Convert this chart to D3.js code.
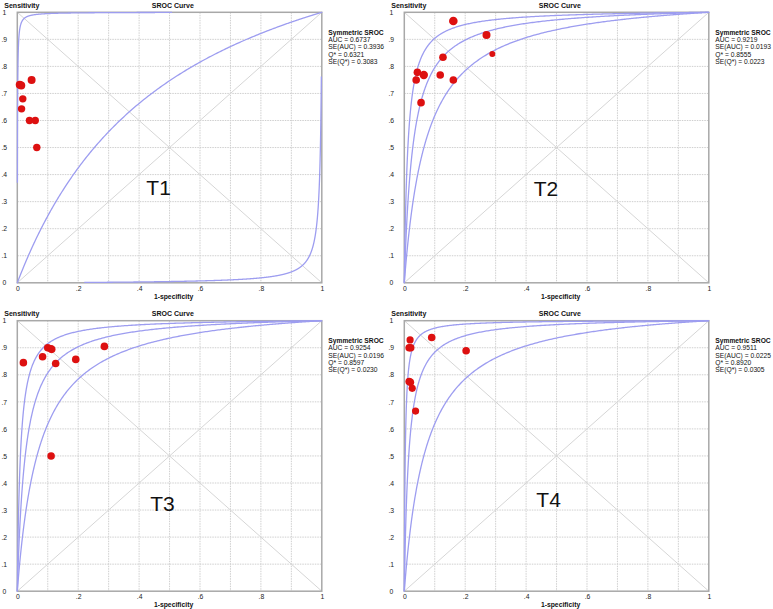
<!DOCTYPE html>
<html>
<head>
<meta charset="utf-8">
<script src="https://cdn.jsdelivr.net/npm/d3@7"></script>
<style>
  body { margin: 0; background: #fff; }
  svg { display: block; font-family: Arial, "Liberation Sans", sans-serif; }
</style>
</head>
<body>
<div class="chart"></div>
<script>
// Panel labels
var panelNames = ["T1", "T2", "T3", "T4"];

// Study points (1-specificity, sensitivity) and marker radius
var fprT1 = [0.008, 0.013, 0.047, 0.018, 0.014, 0.040, 0.059, 0.064];
var sensT1 = [0.732, 0.729, 0.750, 0.680, 0.643, 0.600, 0.600, 0.500];
var sizeT1 = [4, 4, 4, 3.7, 3.7, 3.7, 3.7, 3.7];

var fprT2 = [0.161, 0.270, 0.289, 0.127, 0.043, 0.039, 0.064, 0.118, 0.161, 0.055];
var sensT2 = [0.968, 0.916, 0.846, 0.834, 0.778, 0.750, 0.768, 0.768, 0.750, 0.666];
var sizeT2 = [4.3, 4, 3, 3.8, 3.8, 3.8, 4.2, 3.8, 3.8, 3.8];

var fprT3 = [0.020, 0.083, 0.100, 0.110, 0.113, 0.126, 0.192, 0.286, 0.111];
var sensT3 = [0.845, 0.867, 0.900, 0.896, 0.894, 0.842, 0.857, 0.905, 0.500];
var sizeT3 = [3.8, 3.8, 3.8, 3.8, 3.8, 3.8, 3.8, 3.8, 3.8];

var fprT4 = [0.019, 0.016, 0.021, 0.090, 0.203, 0.016, 0.020, 0.026, 0.037];
var sensT4 = [0.929, 0.900, 0.900, 0.938, 0.889, 0.775, 0.772, 0.750, 0.666];
var sizeT4 = [3.6, 3.8, 3.8, 3.8, 3.8, 3.8, 3.8, 3.6, 3.6];

// Symmetric SROC statistics
var aucValues = [0.6737, 0.9219, 0.9254, 0.9511];
var seAuc = [0.3936, 0.0193, 0.0196, 0.0225];
var qStar = [0.6321, 0.8555, 0.8597, 0.8920];
var seQStar = [0.3083, 0.0223, 0.0230, 0.0305];

// Half width of the outer curves on the logit scale
var bandWidth = [6.45, 0.88, 0.95, 1.54];
// Range of S = logit(TPR) + logit(FPR) drawn for [lower, middle, upper] curves
var spanT1 = [[-7.9, 7.7], [-40, 40], [-8.6, 7.6]];
var spanFull = [[-40, 40], [-40, 40], [-40, 40]];

// Tick labels
var xTicks = [0, 0.2, 0.4, 0.6, 0.8, 1];
var xTickLabels = ["0", ".2", ".4", ".6", ".8", "1"];
var yTicks = [0, 0.1, 0.2, 0.3, 0.4, 0.5, 0.6, 0.7, 0.8, 0.9, 1];
var yTickLabels = ["0", ".1", ".2", ".3", ".4", ".5", ".6", ".7", ".8", ".9", "1"];

// Configuration
var width = 773;
var height = 609;
var plotW = 304.5;
var plotH = 270.5;
var panelLeft = [17.3, 404.3, 17.3, 404.3];
var panelTop = [12.3, 12.3, 320.7, 320.7];
var namePos = [[0.464, 0.325], [0.465, 0.322], [0.477, 0.296], [0.474, 0.311]];

var panels = [
  { fpr: fprT1, sens: sensT1, size: sizeT1, span: spanT1 },
  { fpr: fprT2, sens: sensT2, size: sizeT2, span: spanFull },
  { fpr: fprT3, sens: sensT3, size: sizeT3, span: spanFull },
  { fpr: fprT4, sens: sensT4, size: sizeT4, span: spanFull }
];

var logit = function(p) { return Math.log(p / (1 - p)); };
var expit = function(z) { return 1 / (1 + Math.exp(-z)); };

var svg = d3.select(".chart").append("svg")
    .attr("width", width)
    .attr("height", height);

var x = d3.scaleLinear().domain([0, 1]).range([0, plotW]);
var y = d3.scaleLinear().domain([0, 1]).range([plotH, 0]);

var line = d3.line()
    .x(function(d) { return x(d[0]); })
    .y(function(d) { return y(d[1]); });

var grid = d3.range(1, 10).map(function(i) { return i / 10; });

panels.forEach(function(p, k) {
  var g = svg.append("g")
      .attr("transform", "translate(" + panelLeft[k] + "," + panelTop[k] + ")");

  // dotted grid
  g.selectAll("line.gx").data(grid).enter().append("line")
      .attr("x1", function(d) { return x(d); })
      .attr("x2", function(d) { return x(d); })
      .attr("y1", 0).attr("y2", plotH)
      .attr("stroke", "#cfcfcf").attr("stroke-dasharray", "1.5,1");
  g.selectAll("line.gy").data(grid).enter().append("line")
      .attr("y1", function(d) { return y(d); })
      .attr("y2", function(d) { return y(d); })
      .attr("x1", 0).attr("x2", plotW)
      .attr("stroke", "#cfcfcf").attr("stroke-dasharray", "1.5,1");

  // diagonals
  g.append("path").attr("d", line([[0, 0], [1, 1]]))
      .attr("stroke", "#d6d6d6").attr("fill", "none");
  g.append("path").attr("d", line([[0, 1], [1, 0]]))
      .attr("stroke", "#d6d6d6").attr("fill", "none");

  // frame
  g.append("rect")
      .attr("width", plotW).attr("height", plotH)
      .attr("fill", "none").attr("stroke", "#a8a8a8").attr("stroke-width", 1.5);

  // axes
  var xAxis = g.append("g")
      .attr("transform", "translate(0," + plotH + ")")
      .call(d3.axisBottom(x).tickValues(xTicks).tickSize(0).tickPadding(3)
        .tickFormat(function(d, i) { return xTickLabels[i]; }));
  var yAxis = g.append("g")
      .call(d3.axisLeft(y).tickValues(yTicks).tickSize(0)
        .tickFormat(function(d, i) { return yTickLabels[i]; }));
  [xAxis, yAxis].forEach(function(a) {
    a.select(".domain").remove();
    a.selectAll("text").attr("font-size", 6.8).attr("fill", "#222")
        .attr("font-family", "Arial, 'Liberation Sans', sans-serif");
  });
  yAxis.selectAll("text").attr("text-anchor", "middle").attr("x", -13);

  // SROC curve and its outer curves
  var mid = 2 * logit(qStar[k]);
  var dValues = [mid - bandWidth[k], mid, mid + bandWidth[k]];
  dValues.forEach(function(D, c) {
    var s0 = p.span[c][0], s1 = p.span[c][1];
    var pts = d3.range(0, 2001).map(function(i) {
      var s = s0 + (s1 - s0) * i / 2000;
      return [expit((s - D) / 2), expit((s + D) / 2)];
    });
    g.append("path")
        .attr("d", line(pts))
        .attr("fill", "none")
        .attr("stroke", "#9d9df0")
        .attr("stroke-width", 1.3);
  });

  // study points
  g.selectAll("circle").data(p.fpr).enter().append("circle")
      .attr("cx", function(d) { return x(d); })
      .attr("cy", function(d, i) { return y(p.sens[i]); })
      .attr("r", function(d, i) { return p.size[i]; })
      .attr("fill", "#dd1010");

  // titles
  g.append("text").attr("x", -13).attr("y", -4.5)
      .attr("font-size", 7).attr("font-weight", "bold").attr("fill", "#111")
      .text("Sensitivity");
  g.append("text").attr("x", 134.5).attr("y", -4.5)
      .attr("font-size", 7).attr("font-weight", "bold").attr("fill", "#111")
      .text("SROC Curve");
  g.append("text").attr("x", plotW / 2 + 4).attr("y", plotH + 16)
      .attr("text-anchor", "middle")
      .attr("font-size", 6.8).attr("font-weight", "bold").attr("fill", "#111")
      .text("1-specificity");

  // panel name
  g.append("text")
      .attr("x", x(namePos[k][0])).attr("y", y(namePos[k][1]))
      .attr("text-anchor", "middle")
      .attr("font-size", 21).attr("fill", "#111")
      .text(panelNames[k]);

  // legend
  var legend = [
    "Symmetric SROC",
    "AUC = " + aucValues[k].toFixed(4),
    "SE(AUC) = " + seAuc[k].toFixed(4),
    "Q* = " + qStar[k].toFixed(4),
    "SE(Q*) = " + seQStar[k].toFixed(4)
  ];
  g.selectAll("text.legend").data(legend).enter().append("text")
      .attr("class", "legend")
      .attr("x", plotW + 6.5)
      .attr("y", function(d, i) { return 22.3 + i * 7.35; })
      .attr("font-size", 6.7)
      .attr("font-weight", function(d, i) { return i === 0 ? "bold" : "normal"; })
      .attr("fill", "#111")
      .text(function(d) { return d; });
});
</script>
</body>
</html>
